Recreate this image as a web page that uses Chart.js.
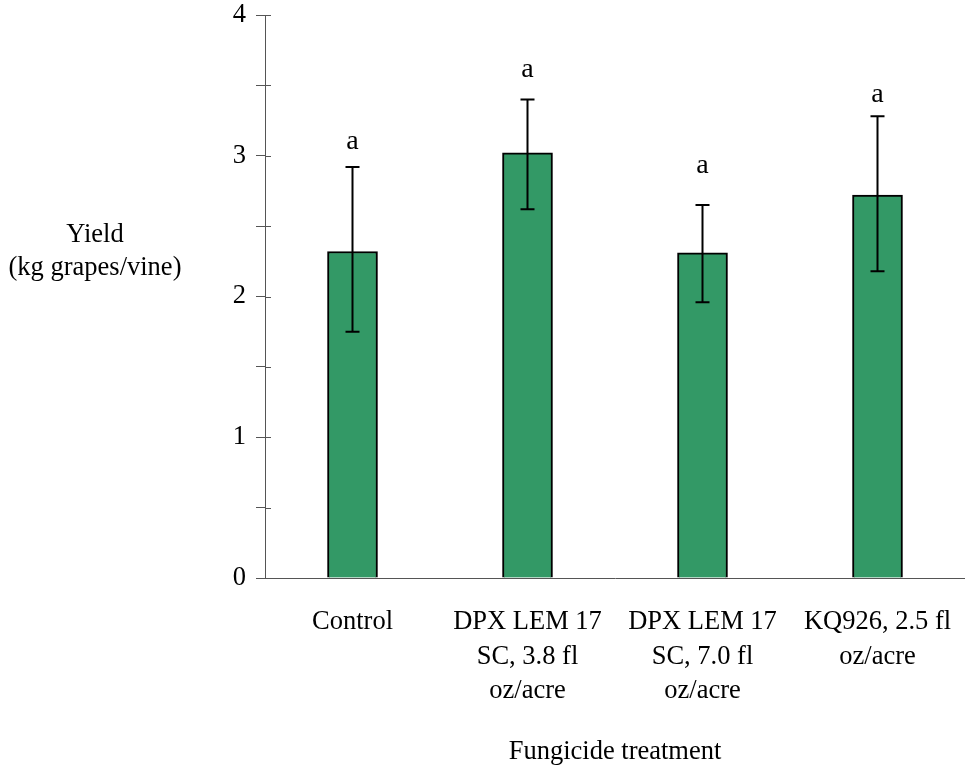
<!DOCTYPE html>
<html>
<head>
<meta charset="utf-8">
<script src="https://cdn.jsdelivr.net/npm/chart.js@4/dist/chart.umd.min.js"></script>
<style>
  html, body { margin: 0; padding: 0; background: #ffffff; }
  #wrap { width: 965px; height: 768px; }
</style>
</head>
<body>
<div id="wrap"><canvas id="yieldChart"></canvas></div>
<script>
// Данные диаграммы
const treatments = [
    'Control',
    ['DPX LEM 17', 'SC, 3.8 fl', 'oz/acre'],
    ['DPX LEM 17', 'SC, 7.0 fl', 'oz/acre'],
    ['KQ926, 2.5 fl', 'oz/acre']
];
const yieldMeans = [2.32, 3.02, 2.31, 2.72];
const errUpper = [2.92, 3.40, 2.65, 3.28];
const errLower = [1.75, 2.62, 1.96, 2.18];
const sigLetters = ['a', 'a', 'a', 'a'];
const letterLevels = [3.05, 3.56, 2.88, 3.38];
const yTickValues = [0, 1, 2, 3, 4];

const serif = '"Liberation Serif", "Times New Roman", serif';
const axisColor = '#555555';

// Плагин: усы ошибок и буквы значимости
const errorBarPlugin = {
    id: 'errorBarPlugin',
    afterDatasetsDraw: (chart) => {
        const ctx = chart.ctx;
        const yScale = chart.scales.y;
        const meta = chart.getDatasetMeta(0);
        ctx.save();
        ctx.strokeStyle = '#000000';
        ctx.lineWidth = 2;
        meta.data.forEach((bar, i) => {
            const x = bar.x;
            const yTop = yScale.getPixelForValue(errUpper[i]);
            const yBot = yScale.getPixelForValue(errLower[i]);
            ctx.beginPath();
            ctx.moveTo(x, yTop);
            ctx.lineTo(x, yBot);
            ctx.moveTo(x - 7, yTop);
            ctx.lineTo(x + 7, yTop);
            ctx.moveTo(x - 7, yBot);
            ctx.lineTo(x + 7, yBot);
            ctx.stroke();

            ctx.fillStyle = '#000000';
            ctx.font = `28px ${serif}`;
            ctx.textAlign = 'center';
            ctx.textBaseline = 'alphabetic';
            ctx.fillText(sigLetters[i], x, yScale.getPixelForValue(letterLevels[i]));
        });
        ctx.restore();
    }
};

// Плагин: засечки внутрь области и горизонтальная подпись оси Y
const axisExtrasPlugin = {
    id: 'axisExtrasPlugin',
    afterDraw: (chart) => {
        const ctx = chart.ctx;
        const yScale = chart.scales.y;
        const left = chart.chartArea.left;
        ctx.save();
        ctx.strokeStyle = axisColor;
        ctx.lineWidth = 1;
        yScale.ticks.forEach((t) => {
            const py = Math.round(yScale.getPixelForValue(t.value)) + 0.5;
            ctx.beginPath();
            ctx.moveTo(left, py);
            ctx.lineTo(left + 6, py);
            ctx.stroke();
        });
        ctx.fillStyle = '#000000';
        ctx.font = `26.5px ${serif}`;
        ctx.textAlign = 'center';
        ctx.textBaseline = 'alphabetic';
        ctx.fillText('Yield', 95, 242);
        ctx.fillText('(kg grapes/vine)', 95, 275);
        ctx.restore();
    }
};

const yieldChart = new Chart(document.getElementById('yieldChart'), {
    type: 'bar',
    data: {
        labels: treatments,
        datasets: [{
            data: yieldMeans,
            backgroundColor: '#339966',
            borderColor: '#000000',
            borderWidth: 2,
            borderSkipped: 'bottom',
            barThickness: 50
        }]
    },
    options: {
        responsive: true,
        maintainAspectRatio: false,
        animation: false,
        plugins: {
            legend: { display: false },
            tooltip: { enabled: false }
        },
        layout: {
            padding: { left: 0, right: 0, top: 15, bottom: 0 }
        },
        scales: {
            x: {
                grid: { display: false, drawTicks: false },
                border: { display: true, color: axisColor, width: 1 },
                ticks: {
                    color: '#000000',
                    font: { family: serif, size: 26.5, lineHeight: 1.3 },
                    padding: 27,
                    maxRotation: 0,
                    autoSkip: false
                },
                title: {
                    display: true,
                    text: 'Fungicide treatment',
                    color: '#000000',
                    font: { family: serif, size: 26.5 },
                    padding: { top: 0, bottom: 0 }
                },
                afterFit: (scale) => {
                    scale.height = 190;
                    scale.paddingLeft = 0;
                    scale.paddingRight = 0;
                }
            },
            y: {
                min: 0,
                max: 4,
                ticks: {
                    stepSize: 0.5,
                    color: '#000000',
                    font: { family: serif, size: 26.5 },
                    padding: 10,
                    callback: (v) => yTickValues.includes(v) ? String(v) : ''
                },
                grid: {
                    drawOnChartArea: false,
                    drawTicks: true,
                    tickLength: 9,
                    color: axisColor
                },
                border: { display: true, color: axisColor, width: 1 },
                afterFit: (scale) => {
                    scale.width = 265;
                    scale.paddingTop = 0;
                    scale.paddingBottom = 0;
                }
            }
        }
    },
    plugins: [errorBarPlugin, axisExtrasPlugin]
});
</script>
</body>
</html>
